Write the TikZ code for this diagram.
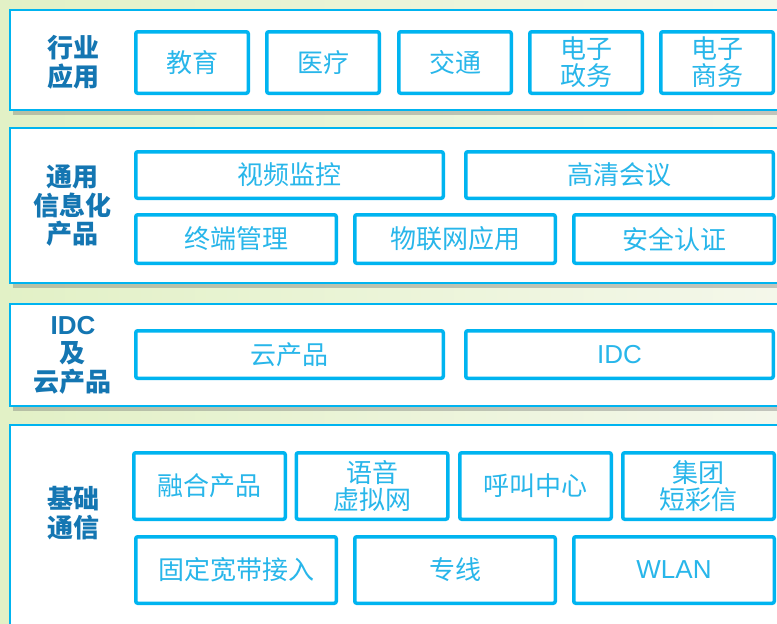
\documentclass[tikz,border=0pt]{standalone}
\usepackage{fontspec}
\newfontfamily\cjk{Noto Sans CJK SC}
\newfontfamily\latin{Liberation Sans}
\usetikzlibrary{shadows}
\definecolor{bgleft}{RGB}{226,241,198}
\definecolor{bgright}{RGB}{244,247,234}
\definecolor{frame}{RGB}{0,180,240}
\definecolor{boxtext}{RGB}{40,182,234}
\definecolor{labeltext}{RGB}{20,118,178}
\tikzset{
  panel/.style={draw=frame, line width=2pt, fill=white,
    drop shadow={shadow xshift=3pt, shadow yshift=-5pt, opacity=0.35, fill=black!60}},
  item/.style={draw=frame, line width=3.5pt, rounded corners=2pt, fill=white,
    text=boxtext, align=center, inner sep=0pt,
    font=\cjk\fontsize{26}{27}\selectfont},
  layer/.style={text=labeltext, align=center,
    font=\cjk\bfseries\fontsize{26}{28.5}\selectfont}
}
\begin{document}
\begin{tikzpicture}[x=1pt,y=-1pt]
      \clip (0,0) rectangle (777,624);
      \fill[left color=bgleft, right color=bgright] (0,0) rectangle (777,624);
      % layers
      \draw[panel] (10,10) rectangle (800,110);
      \draw[panel] (10,128) rectangle (800,283);
      \draw[panel] (10,304) rectangle (800,406);
      \draw[panel] (10,425) rectangle (800,650);
      \path
        (73,62) node[layer] (l1){行业\\应用}
        (73,206) node[layer] (l2){通用\\信息化\\产品}
        (73,355) node[layer] (l3){{\latin IDC}\\及\\云产品}
        (73,513) node[layer] (l4){基础\\通信};
      % industry applications
      \begin{scope}[every node/.style={item, minimum width=112.5pt, minimum height=61.5pt}]
        \path
          (192,62.5) node (edu){教育}
          (323,62.5) node (med){医疗}
          (455,62.5) node (traffic){交通}
          (586,62.5) node (egov){电子\\政务}
          (717,62.5) node (ecom){电子\\商务};
      \end{scope}
      % general information products
      \begin{scope}[every node/.style={item, minimum width=307.5pt, minimum height=46.5pt}]
        \path
          (289.5,175) node (video){视频监控}
          (619.5,175) node (hd){高清会议};
      \end{scope}
      \begin{scope}[every node/.style={item, minimum width=200.5pt, minimum height=48.5pt}]
        \path
          (236,239) node (term){终端管理}
          (455,239) node (iot){物联网应用}
          (674,239) node (auth){安全认证};
      \end{scope}
      % IDC and cloud
      \begin{scope}[every node/.style={item, minimum width=307.5pt, minimum height=47.5pt}]
        \path
          (289.5,354.5) node (cloud){云产品}
          (619.5,354.5) node (idc){\latin IDC};
      \end{scope}
      % basic communication
      \begin{scope}[every node/.style={item, minimum width=151.5pt, minimum height=66.5pt}]
        \path
          (209.5,486) node (fusion){融合产品}
          (372,486) node (vpn){语音\\虚拟网}
          (535.5,486) node (call){呼叫中心}
          (698.5,486) node (sms){集团\\短彩信};
      \end{scope}
      \begin{scope}[every node/.style={item, minimum width=200.5pt, minimum height=66.5pt}]
        \path
          (236,570) node (broad){固定宽带接入}
          (455,570) node (line){专线}
          (674,570) node (wlan){\latin WLAN};
      \end{scope}
    \end{tikzpicture}
\end{document}
